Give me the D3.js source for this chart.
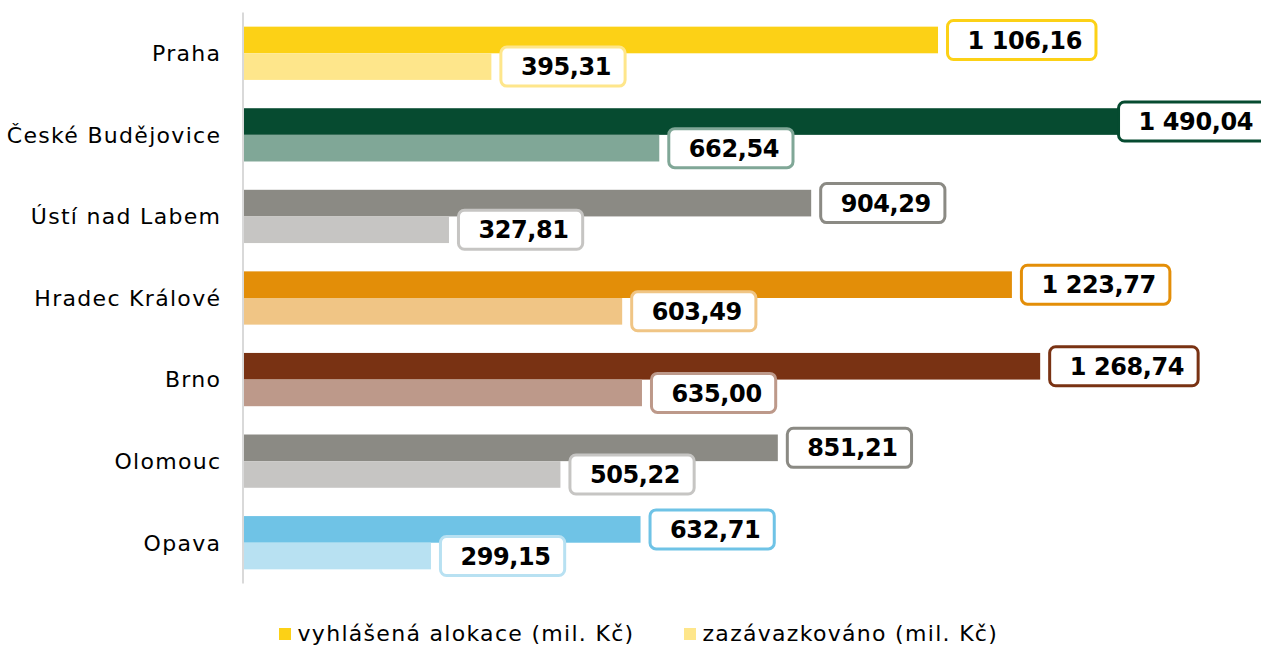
<!DOCTYPE html>
<html>
<head>
<meta charset="utf-8">
<script src="https://cdn.jsdelivr.net/npm/d3@7"></script>
<style>
  body { margin: 0; background: #fff; }
  svg { display: block; font-family: Verdana, "DejaVu Sans", sans-serif; }
</style>
</head>
<body>
<div id="chart"></div>
<script>
var svgWidth = 1261;
var svgHeight = 646;

// data
var categories = ["Praha", "České Budějovice", "Ústí nad Labem", "Hradec Králové", "Brno", "Olomouc", "Opava"];
var alokace = [1106.16, 1490.04, 904.29, 1223.77, 1268.74, 851.21, 632.71];
var zazavazkovano = [395.31, 662.54, 327.81, 603.49, 635.00, 505.22, 299.15];
var seriesNames = ["vyhlášená alokace (mil. Kč)", "zazávazkováno (mil. Kč)"];

// per-city colours (dark, light)
var darkColors = ["#fcd116", "#064b30", "#8b8a84", "#e38e08", "#793213", "#8b8a84", "#6fc3e6"];
var lightColors = ["#fee68b", "#80a797", "#c6c5c3", "#f0c585", "#bd998a", "#c6c5c3", "#b8e1f2"];

var svg = d3.select("#chart")
    .append("svg")
    .attr("width", svgWidth)
    .attr("height", svgHeight);

var x = d3.scaleLinear()
    .domain([0, 1600])
    .range([243, 1248.3]);

var y = d3.scaleBand()
    .domain(categories)
    .range([12.5, 583.5])
    .paddingInner(0.347)
    .paddingOuter(0.1735);

var ySub = d3.scaleBand()
    .domain([0, 1])
    .range([0, y.bandwidth()]);

var rows = categories.map(function(c, i) {
    return {
        cat: c,
        vals: [
            { v: alokace[i], color: darkColors[i], s: 0 },
            { v: zazavazkovano[i], color: lightColors[i], s: 1 }
        ]
    };
});

var groups = svg.selectAll("g.cat")
    .data(rows)
    .enter()
    .append("g")
    .attr("class", "cat")
    .attr("transform", d => `translate(0, ${y(d.cat)})`);

groups.selectAll("rect.bar")
    .data(d => d.vals)
    .enter()
    .append("rect")
    .attr("class", "bar")
    .attr("x", x(0))
    .attr("y", d => ySub(d.s))
    .attr("width", d => x(d.v) - x(0))
    .attr("height", ySub.bandwidth())
    .attr("fill", d => d.color);

// axis line
svg.append("line")
    .attr("x1", x(0))
    .attr("x2", x(0))
    .attr("y1", 12.5)
    .attr("y2", 583.5)
    .attr("stroke", "#d9d9d9")
    .attr("stroke-width", 2);

// category labels
svg.selectAll("text.catlabel")
    .data(categories)
    .enter()
    .append("text")
    .attr("class", "catlabel")
    .attr("x", 221.3)
    .attr("y", d => y(d) + y.bandwidth() / 2)
    .attr("dy", "0.36em")
    .attr("text-anchor", "end")
    .attr("font-size", "22px")
    .attr("letter-spacing", "1.3px")
    .attr("fill", "#000")
    .text(d => d);

// data labels
var fmt = function(v) {
    var parts = v.toFixed(2).split(".");
    var intPart = parts[0].replace(/\B(?=(\d{3})+(?!\d))/g, " ");
    return intPart + "," + parts[1];
};

var labelH = 39;
var labels = groups.selectAll("g.lbl")
    .data(d => d.vals)
    .enter()
    .append("g")
    .attr("class", "lbl");

labels.each(function(d) {
    var g = d3.select(this);
    var t = g.append("text")
        .attr("font-size", "24px")
        .attr("font-weight", "bold")
        .attr("letter-spacing", "-0.4px")
        .attr("fill", "#000")
        .text(fmt(d.v));
    var tw = t.node().getComputedTextLength();
    var bw = tw + 34;
    var bx = Math.min(x(d.v) + 9.5, 1267 - bw);
    var cy = ySub(d.s) + ySub.bandwidth() / 2;
    g.insert("rect", "text")
        .attr("x", bx)
        .attr("y", cy - labelH / 2)
        .attr("width", bw)
        .attr("height", labelH)
        .attr("rx", 6)
        .attr("fill", "#fff")
        .attr("stroke", d.color)
        .attr("stroke-width", 3);
    t.attr("x", bx + 20)
        .attr("y", cy)
        .attr("dy", "0.36em");
});

// legend
var legend = svg.append("g");
var legendX = [279, 684];
var legendColors = [darkColors[0], lightColors[0]];
seriesNames.forEach(function(name, i) {
    legend.append("rect")
        .attr("x", legendX[i])
        .attr("y", 628)
        .attr("width", 12)
        .attr("height", 12)
        .attr("fill", legendColors[i]);
    legend.append("text")
        .attr("x", legendX[i] + 18.5)
        .attr("y", 633)
        .attr("dy", "0.36em")
        .attr("font-size", "22px")
        .attr("letter-spacing", "1.3px")
        .attr("fill", "#000")
        .text(name);
});
</script>
</body>
</html>
